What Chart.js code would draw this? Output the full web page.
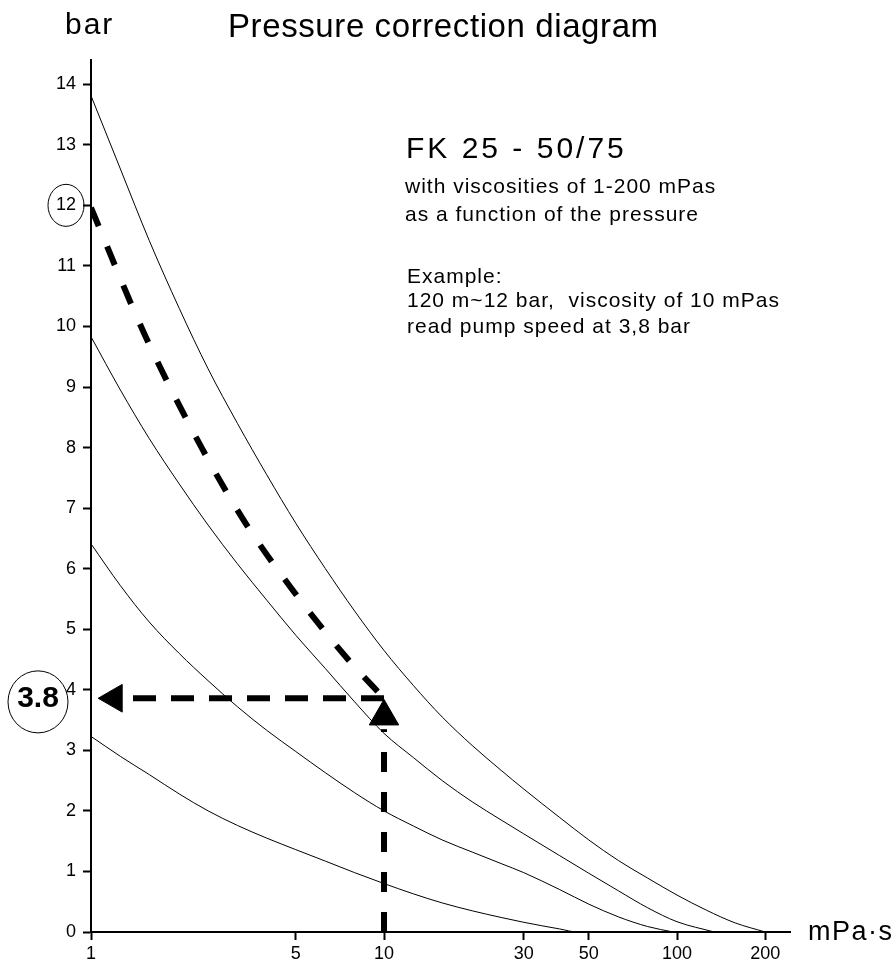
<!DOCTYPE html>
<html lang="en">
<head>
<meta charset="utf-8">
<title>Pressure correction diagram</title>
<script src="https://cdn.jsdelivr.net/npm/chart.js@4.4.0/dist/chart.umd.min.js"></script>
<style>
  body { margin: 0; background: #fff; }
  #contenedor { position: relative; width: 896px; height: 966px; font-family: "Liberation Sans", Arial, sans-serif; color: #000; }
  #myChart { position: absolute; left: 0; top: 0; }
  .texto { position: absolute; white-space: pre; line-height: 1; }
  .nota { font-size: 21px; letter-spacing: 1px; }
</style>
</head>
<body>
<div id="contenedor">
  <canvas id="myChart" width="896" height="966"></canvas>
  <div class="texto" style="left:65px;top:9px;font-size:30px;letter-spacing:2px">bar</div>
  <div class="texto" style="left:228px;top:9px;font-size:33px;letter-spacing:0.6px">Pressure correction diagram</div>
  <div class="texto" style="left:406px;top:133px;font-size:30px;letter-spacing:3px">FK 25 - 50/75</div>
  <div class="texto nota" style="left:405px;top:175px">with viscosities of 1-200 mPas</div>
  <div class="texto nota" style="left:405px;top:203px">as a function of the pressure</div>
  <div class="texto nota" style="left:407px;top:265px">Example:</div>
  <div class="texto nota" style="left:407px;top:289px">120 m~12 bar,  viscosity of 10 mPas</div>
  <div class="texto nota" style="left:407px;top:315px">read pump speed at 3,8 bar</div>
  <div class="texto" style="left:808px;top:918px;font-size:27px;letter-spacing:1.5px">mPa·s</div>
</div>

<script>
// Ejes
const ticksX = [1, 5, 10, 30, 50, 100, 200];
const ticksY = [0, 1, 2, 3, 4, 5, 6, 7, 8, 9, 10, 11, 12, 13, 14];

const curva1X = [1, 1.26, 1.58, 2, 2.51, 3.16, 3.98, 5, 6.31, 7.94, 10, 12.6, 15.8, 20, 25.1, 30, 39.8, 50, 63.1, 79.4, 100, 126, 158, 200];
const curva1Y = [13.81, 12.6, 11.42, 10.3, 9.3, 8.4, 7.55, 6.75, 6.0, 5.3, 4.65, 4.07, 3.55, 3.08, 2.67, 2.36, 1.89, 1.52, 1.18, 0.89, 0.61, 0.36, 0.15, 0];

const curva2X = [1, 1.26, 1.58, 2, 2.51, 3.16, 3.98, 5, 6.31, 7.94, 10, 12.6, 15.8, 20, 25.1, 30, 39.8, 50, 63.1, 79.4, 100, 134];
const curva2Y = [9.83, 8.95, 8.15, 7.4, 6.72, 6.08, 5.48, 4.9, 4.35, 3.8, 3.28, 2.88, 2.5, 2.15, 1.85, 1.62, 1.26, 0.97, 0.68, 0.4, 0.17, 0];

const curva3X = [1, 1.26, 1.58, 2, 2.51, 3.16, 3.98, 5, 6.31, 7.94, 10, 12.6, 15.8, 20, 25.1, 30, 39.8, 50, 63.1, 79.4, 97];
const curva3Y = [6.41, 5.72, 5.12, 4.6, 4.15, 3.72, 3.33, 2.98, 2.63, 2.3, 2.0, 1.75, 1.52, 1.32, 1.13, 0.98, 0.7, 0.46, 0.25, 0.09, 0];

const curva4X = [1, 1.26, 1.58, 2, 2.51, 3.16, 3.98, 5, 6.31, 7.94, 10, 12.6, 15.8, 20, 25.1, 30, 39.8, 45.7, 50];
const curva4Y = [3.23, 2.9, 2.6, 2.28, 2.0, 1.76, 1.55, 1.36, 1.17, 0.98, 0.8, 0.63, 0.48, 0.35, 0.24, 0.16, 0.05, 0, 0];

// Ejemplo: 12 bar con 10 mPa·s -> 3,8 bar
const ejemploX = [1, 1.52, 2.39, 3.35, 4.89, 7.48, 10];
const ejemploY = [11.96, 9.88, 7.99, 6.77, 5.64, 4.52, 3.86];
const lecturaX = [10, 1.25];
const lecturaY = [3.86, 3.86];
const verticalX = [10, 10];
const verticalY = [0, 3.35];
const flechaIzqX = [1.2];
const flechaIzqY = [3.86];
const flechaArribaX = [10];
const flechaArribaY = [3.56];
const valorInicial = 12;
const valorLeido = 3.8;

function puntos(xs, ys) {
    return xs.map((x, i) => ({ x: x, y: ys[i] }));
}

function curva(xs, ys) {
    return {
        data: puntos(xs, ys),
        showLine: true,
        borderColor: '#000',
        borderWidth: 1,
        pointRadius: 0,
        cubicInterpolationMode: 'monotone'
    };
}

function trazo(xs, ys, dash, suave) {
    return {
        data: puntos(xs, ys),
        showLine: true,
        borderColor: '#000',
        borderWidth: 6,
        borderDash: dash,
        pointRadius: 0,
        cubicInterpolationMode: suave ? 'monotone' : 'default',
        tension: 0
    };
}

function flecha(xs, ys, giro, radio) {
    return {
        data: puntos(xs, ys),
        showLine: false,
        pointStyle: 'triangle',
        pointRadius: radio,
        pointRotation: giro,
        backgroundColor: '#000',
        borderColor: '#000',
        borderWidth: 1
    };
}

// circulos alrededor de 12 y 3.8
const circulos = {
    id: 'circulos',
    afterDatasetsDraw(chart) {
        const ctx = chart.ctx;
        const ejeY = chart.scales.y;
        const izq = chart.chartArea.left;
        ctx.save();
        ctx.strokeStyle = '#000';
        ctx.lineWidth = 1;
        ctx.beginPath();
        ctx.ellipse(izq - 25, ejeY.getPixelForValue(valorInicial), 18, 21, 0, 0, Math.PI * 2);
        ctx.stroke();
        const yLeido = ejeY.getPixelForValue(valorLeido);
        ctx.beginPath();
        ctx.ellipse(izq - 53, yLeido, 30, 31, 0, 0, Math.PI * 2);
        ctx.stroke();
        ctx.fillStyle = '#000';
        ctx.font = 'bold 30px "Liberation Sans", Arial, sans-serif';
        ctx.textAlign = 'center';
        ctx.textBaseline = 'middle';
        ctx.fillText(String(valorLeido), izq - 53, yLeido - 3);
        ctx.restore();
    }
};

const fuenteTicks = { family: 'Liberation Sans', size: 18 };

const graficoHtml = document.getElementById('myChart').getContext('2d');
const graficoNuevo = new Chart(graficoHtml, {
    type: 'scatter',
    data: {
        datasets: [
            curva(curva1X, curva1Y),
            curva(curva2X, curva2Y),
            curva(curva3X, curva3Y),
            curva(curva4X, curva4Y),
            trazo(ejemploX, ejemploY, [20, 22], true),
            trazo(lecturaX, lecturaY, [23, 15], false),
            trazo(verticalX, verticalY, [20, 20], false),
            flecha(flechaIzqX, flechaIzqY, -90, 16),
            flecha(flechaArribaX, flechaArribaY, 0, 17)
        ]
    },
    options: {
        responsive: false,
        animation: false,
        layout: { padding: { top: 60, right: 106, left: 0, bottom: 0 } },
        plugins: {
            legend: { display: false },
            tooltip: { enabled: false }
        },
        scales: {
            x: {
                type: 'logarithmic',
                min: 1,
                max: 243,
                afterBuildTicks: (eje) => { eje.ticks = ticksX.map(v => ({ value: v })); },
                afterFit: (eje) => { eje.height = 34; },
                grid: { drawOnChartArea: false, drawTicks: true, tickLength: 8, tickWidth: 2, tickColor: '#000' },
                border: { display: true, color: '#000', width: 2 },
                ticks: {
                    autoSkip: false,
                    maxRotation: 0,
                    padding: 3,
                    color: '#000',
                    font: fuenteTicks,
                    callback: (v) => String(v)
                }
            },
            y: {
                min: 0,
                max: 14.4,
                afterBuildTicks: (eje) => { eje.ticks = ticksY.map(v => ({ value: v })); },
                afterFit: (eje) => { eje.width = 91; },
                grid: { drawOnChartArea: false, drawTicks: true, tickLength: 8, tickWidth: 2, tickColor: '#000' },
                border: { display: true, color: '#000', width: 2 },
                ticks: {
                    padding: 7,
                    color: '#000',
                    font: fuenteTicks,
                    callback: (v) => String(v)
                }
            }
        }
    },
    plugins: [circulos]
});
</script>
</body>
</html>
